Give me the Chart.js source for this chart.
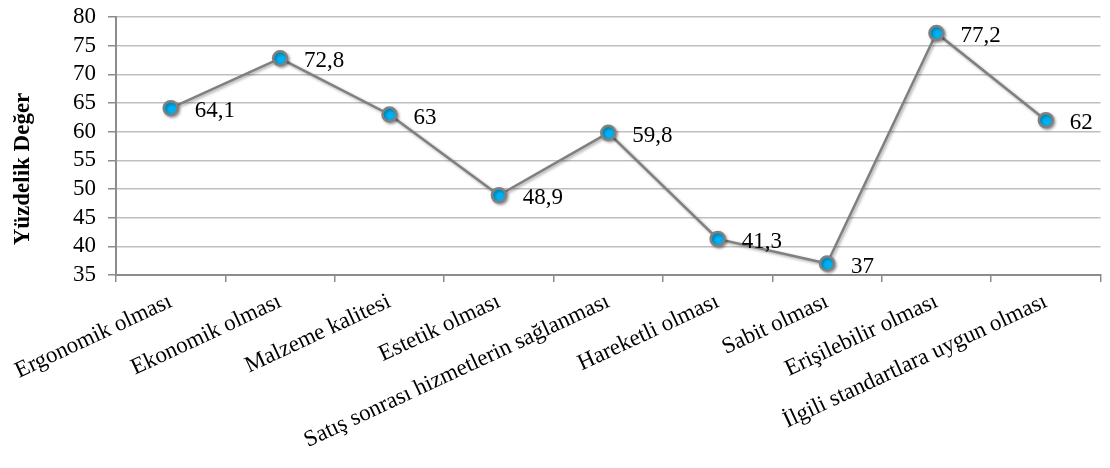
<!DOCTYPE html>
<html>
<head>
<meta charset="utf-8">
<script src="https://cdn.jsdelivr.net/npm/chart.js@4/dist/chart.umd.min.js"></script>
<style>
html,body{margin:0;padding:0;background:#fff;}
#wrap{width:1110px;height:468px;position:relative;}
</style>
</head>
<body>
<div id="wrap"><canvas id="c"></canvas></div>
<script>
const categories = ["Ergonomik olması", "Ekonomik olması", "Malzeme kalitesi", "Estetik olması", "Satış sonrası hizmetlerin sağlanması", "Hareketli olması", "Sabit olması", "Erişilebilir olması", "İlgili standartlara uygun olması"];
const values = [64.1, 72.8, 63, 48.9, 59.8, 41.3, 37, 77.2, 62];
const valueLabels = ["64,1", "72,8", "63", "48,9", "59,8", "41,3", "37", "77,2", "62"];
const yAxisTitle = "Yüzdelik Değer";
const yMin = 35, yMax = 80, yStep = 5;

const FONT = "'Liberation Serif', 'Times New Roman', serif";

const shadowPlugin = {
  id: 'shadow',
  beforeDatasetsDraw(chart) {
    const ctx = chart.ctx;
    ctx.save();
    ctx.shadowColor = 'rgba(0,0,0,0.35)';
    ctx.shadowBlur = 3;
    ctx.shadowOffsetX = 1.5;
    ctx.shadowOffsetY = 1.5;
  },
  afterDatasetsDraw(chart) {
    chart.ctx.restore();
  }
};

const labelPlugin = {
  id: 'valueLabels',
  afterDatasetsDraw(chart) {
    const ctx = chart.ctx;
    const meta = chart.getDatasetMeta(0);
    ctx.save();
    ctx.font = "23px " + FONT;
    ctx.fillStyle = '#000';
    ctx.textAlign = 'left';
    ctx.textBaseline = 'middle';
    meta.data.forEach((pt, i) => {
      ctx.fillText(valueLabels[i], pt.x + 24, pt.y + 3);
    });
    ctx.translate(23, 169);
    ctx.rotate(-Math.PI / 2);
    ctx.font = "bold 23px " + FONT;
    ctx.textAlign = 'center';
    ctx.textBaseline = 'middle';
    ctx.fillText(yAxisTitle, 0, 0);
    ctx.restore();
  }
};

new Chart(document.getElementById('c'), {
  type: 'line',
  data: {
    labels: categories,
    datasets: [{
      data: values,
      borderColor: '#808080',
      borderWidth: 2.5,
      backgroundColor: '#00B0F0',
      pointBackgroundColor: '#00B0F0',
      pointBorderColor: '#808080',
      pointBorderWidth: 2.5,
      pointRadius: 7,
      tension: 0,
      fill: false
    }]
  },
  options: {
    responsive: true,
    maintainAspectRatio: false,
    animation: false,
    devicePixelRatio: 1,
    layout: { padding: { top: 17, right: 0, left: 0, bottom: 0 } },
    plugins: { legend: { display: false }, tooltip: { enabled: false } },
    scales: {
      x: {
        offset: true,
        grid: { offset: true, drawOnChartArea: false, color: '#8C8C8C', tickLength: 7, lineWidth: 1.5 },
        border: { color: '#8C8C8C', width: 2 },
        ticks: {
          font: { family: FONT, size: 23 },
          color: '#000',
          maxRotation: 25,
          minRotation: 25,
          autoSkip: false,
          padding: 6
        },
        afterFit(scale) { scale.height = 193; scale.paddingLeft = 0; scale.paddingRight = 0; }
      },
      y: {
        min: yMin, max: yMax,
        ticks: { stepSize: yStep, font: { family: FONT, size: 23 }, color: '#000', padding: 12, autoSkip: false },
        grid: { color: '#BFBFBF', lineWidth: 1.5, tickLength: 8, tickColor: '#8C8C8C' },
        border: { color: '#8C8C8C', width: 2 },
        afterFit(scale) { scale.width = 116; scale.paddingTop = 0; scale.paddingBottom = 0; }
      }
    }
  },
  plugins: [shadowPlugin, labelPlugin]
});
</script>
</body>
</html>
